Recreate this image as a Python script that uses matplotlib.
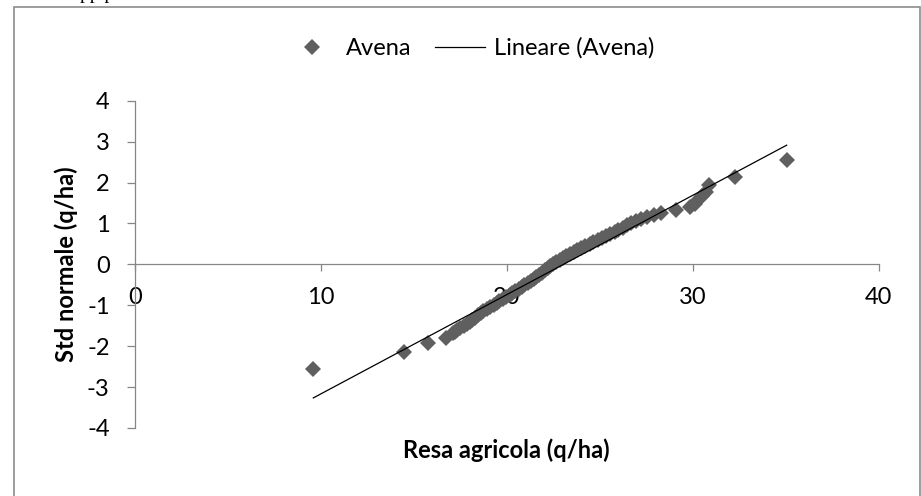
import numpy as np
import matplotlib
matplotlib.use("Agg")
import matplotlib.pyplot as plt
from matplotlib.lines import Line2D
from matplotlib.patches import Rectangle

# yields (q/ha), sorted, and their standard normal scores
resa = [9.6, 14.5, 15.75, 16.75,
        17.1, 17.2, 17.35, 17.5, 17.7, 17.85, 18.0, 18.15, 18.3, 18.45,
        18.6, 18.75, 18.95, 19.1, 19.3, 19.45, 19.6, 19.8, 19.95, 20.15,
        20.3, 20.45, 20.65, 20.8, 20.95, 21.15, 21.3, 21.45, 21.6, 21.75,
        21.9, 22.05, 22.2, 22.35, 22.5, 22.65, 22.85, 23.0, 23.2, 23.4,
        23.6, 23.8, 24.0, 24.2, 24.45, 24.65, 24.9, 25.1, 25.35, 25.55,
        25.8, 26.0, 26.25, 26.45, 26.7, 26.95, 27.2, 27.55, 27.9, 28.3,
        29.1, 29.85, 30.1, 30.3, 30.5, 30.7, 30.85, 32.25, 35.05]
std_norm = [-2.55, -2.15, -1.93, -1.81,
            -1.69, -1.65, -1.60, -1.55, -1.50, -1.45, -1.40, -1.35, -1.30, -1.25,
            -1.20, -1.15, -1.10, -1.05, -1.00, -0.95, -0.90, -0.85, -0.80, -0.75,
            -0.70, -0.65, -0.60, -0.55, -0.50, -0.45, -0.40, -0.35, -0.30, -0.25,
            -0.20, -0.15, -0.10, -0.05, 0.00, 0.05, 0.10, 0.15, 0.20, 0.25,
            0.30, 0.35, 0.40, 0.45, 0.50, 0.55, 0.60, 0.65, 0.70, 0.75,
            0.80, 0.85, 0.90, 0.95, 1.00, 1.05, 1.10, 1.15, 1.20, 1.25,
            1.33, 1.40, 1.48, 1.58, 1.68, 1.78, 1.95, 2.13, 2.54]

x_ticks = [0, 10, 20, 30, 40]
y_ticks = [-4, -3, -2, -1, 0, 1, 2, 3, 4]

plt.rcParams['font.family'] = ['Lato', 'DejaVu Sans']
plt.rcParams['axes.unicode_minus'] = False
fs = 17
grey = '#868686'

fig = plt.figure(figsize=(9.21, 4.96), dpi=100)
ax = fig.add_axes([0.1463, 0.1371, 0.8078, 0.6599])

x = np.array(resa)
y = np.array(std_norm)
ax.plot(x, y, linestyle='none', marker='D', markersize=8.5, markeredgewidth=0,
        color='#5f5f5f', zorder=3)

slope, icpt = np.polyfit(x, y, 1)
xl = np.array([x.min(), x.max()])
ax.plot(xl, slope * xl + icpt, color='black', lw=0.9, zorder=4)

ax.set_xlim(0, 40)
ax.set_ylim(-4, 4)
ax.set_xticks(x_ticks)
ax.set_yticks(y_ticks)

ax.spines['top'].set_visible(False)
ax.spines['right'].set_visible(False)
ax.spines['bottom'].set_position(('data', 0))
for s in ('left', 'bottom'):
    ax.spines[s].set_color(grey)
    ax.spines[s].set_linewidth(0.9)
ax.tick_params(axis='x', direction='out', length=5, width=0.9, color=grey,
               labelsize=fs, pad=11.5)
ax.tick_params(axis='y', direction='out', length=5.5, width=0.9, color=grey,
               labelsize=fs, pad=12.5)

ax.set_xlabel('Resa agricola (q/ha)', fontsize=fs, fontweight='bold', va='center')
ax.xaxis.set_label_coords(0.5, -0.0673)
ax.set_ylabel('Std normale (q/ha)', fontsize=fs, fontweight='bold', va='center')
ax.yaxis.set_label_coords(-0.0923, 0.5)

handles = [Line2D([], [], linestyle='none', marker='D', markersize=8,
                  markeredgewidth=0, color='#5f5f5f'),
           Line2D([], [], color='black', lw=0.9)]
fig.legend(handles, ['Avena', 'Lineare (Avena)'], loc='center',
           bbox_to_anchor=(471 / 921, 0.903), ncol=2, frameon=False,
           fontsize=fs, handlelength=2.1, handletextpad=0.4, columnspacing=1.0)

# chart area frame (bottom edge falls outside the picture)
fig.patches.append(Rectangle((0.0152, -0.05), 0.9838, 0.9859 + 0.05,
                             transform=fig.transFigure, fill=False,
                             edgecolor='#8c8c8c', lw=1.2))
# cut-off text from the page above
fig.text(0.087, 1.002, 'pp p', family='Liberation Serif', fontsize=14,
         va='baseline', ha='left')

fig.savefig('out.png', dpi=100)
